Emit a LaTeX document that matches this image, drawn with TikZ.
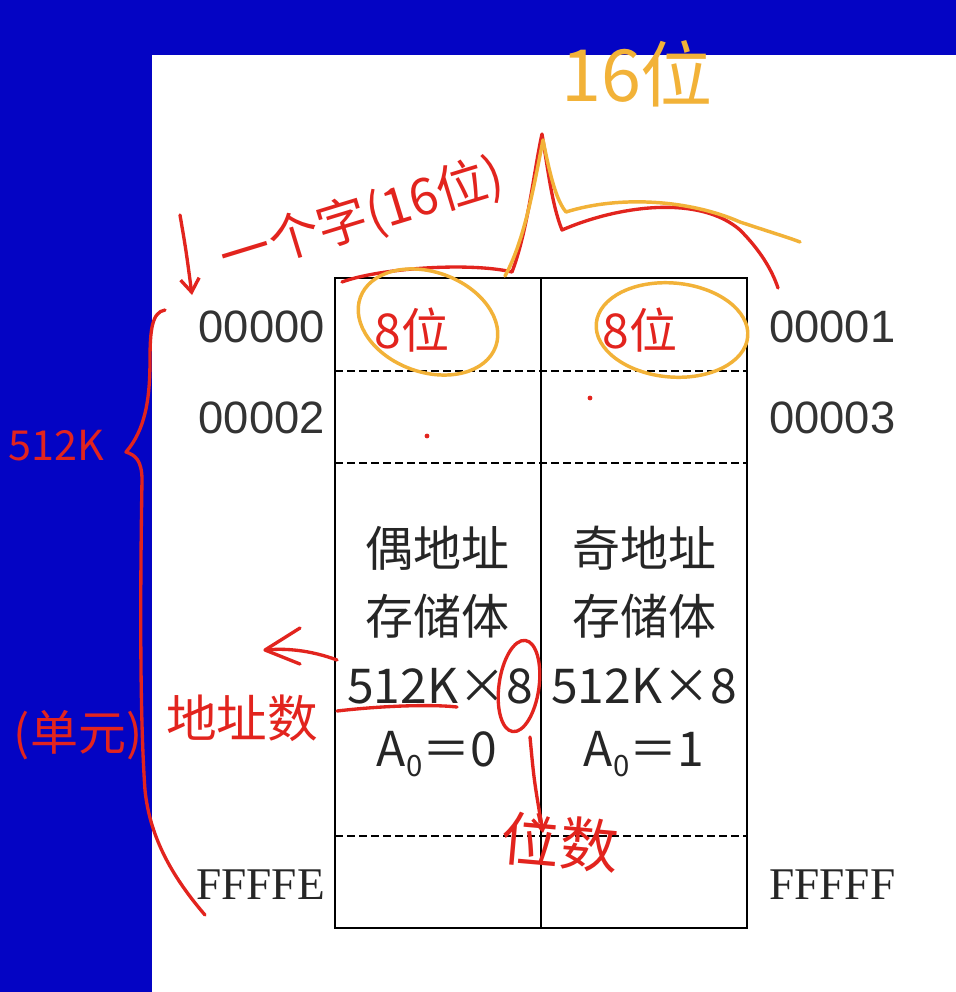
\documentclass[tikz,border=0pt]{standalone}
\usepackage{fontspec}
\setmainfont{Liberation Sans}
\newfontfamily\cjk{Noto Sans CJK SC}
\newfontfamily\addrserif{Liberation Serif}
\usetikzlibrary{arrows.meta}
\definecolor{bgblue}{RGB}{4,4,196}
\definecolor{inkred}{RGB}{226,36,30}
\definecolor{inkorange}{RGB}{242,178,56}
\begin{document}
\begin{tikzpicture}[x=0.75pt,y=-0.75pt,
  addr/.style={font=\fontsize{34}{40}\selectfont, text=black!80, inner sep=0pt},
  addrs/.style={font=\addrserif\fontsize{34}{40}\selectfont, text=black!85, inner sep=0pt},
  cell/.style={font=\cjk\fontsize{36}{44}\selectfont, text=black!85, inner sep=0pt},
  rednote/.style={font=\cjk\fontsize{36}{44}\selectfont, text=inkred, inner sep=0pt},
  orangenote/.style={font=\cjk\fontsize{54}{60}\selectfont, text=inkorange, inner sep=0pt},
  redink/.style={draw=inkred, line width=2.5pt, line cap=round, line join=round},
  orangeink/.style={draw=inkorange, line width=2.6pt, line cap=round, line join=round},
  frame/.style={draw=black, line width=2.1pt},
  sep/.style={draw=black, line width=1.7pt, dash pattern=on 6pt off 3pt}
]
\useasboundingbox (0,0) rectangle (956,992);
\fill[bgblue] (0,0) rectangle (956,992);
\fill[white] (152,55) rectangle (956,992);

% table
\coordinate (tl) at (335,278);
\coordinate (br) at (747,928);
\draw[frame] (tl) rectangle (br);
\draw[frame] (541,278) -- (541,928);
\draw[sep] (335,371) -- (747,371);
\draw[sep] (335,463) -- (747,463);
\draw[sep] (335,836) -- (747,836);

% address labels
\node[addr, anchor=east] (a0) at (325,327) {00000};
\node[addr, anchor=east] (a2) at (325,418) {00002};
\node[addrs, anchor=east] (aE) at (325,885) {FFFFE};
\node[addr, anchor=west] (a1) at (769,327) {00001};
\node[addr, anchor=west] (a3) at (769,418) {00003};
\node[addrs, anchor=west] (aF) at (769,885) {FFFFF};

% cell texts
\node[cell] (e1) at (437,548) {偶地址};
\node[cell] (e2) at (437,616) {存储体};
\node[cell] (e3) at (440,686) {512K×8};
\node[cell] (e4) at (437,754) {A\raisebox{-0.22em}{\fontsize{22}{24}\selectfont 0}＝0};
\node[cell] (o1) at (644,548) {奇地址};
\node[cell] (o2) at (644,616) {存储体};
\node[cell] (o3) at (644,686) {512K×8};
\node[cell] (o4) at (644,754) {A\raisebox{-0.22em}{\fontsize{22}{24}\selectfont 0}＝1};

% ---- handwritten annotations ----
\node[orangenote] (n16) at (637,74) {16位};
\node[rednote, font=\cjk\fontsize{38}{44}\selectfont, rotate=17] (word) at (362,218) {一个字(16位)};
\draw[redink, -{Straight Barb[length=10pt,width=14pt]}] (180,215) .. controls (186,250) .. (192,295);

% spike curves
\draw[redink] (342,282) .. controls (380,268) and (470,262) .. (512,272)
  .. controls (528,230) and (534,170) .. (542,134)
  .. controls (548,170) and (552,205) .. (562,230)
  .. controls (620,205) and (700,195) .. (740,230)
  .. controls (760,250) and (772,270) .. (778,288);
\draw[orangeink] (505,276) .. controls (525,240) and (535,180) .. (543,140)
  .. controls (550,175) and (556,200) .. (566,212)
  .. controls (620,195) and (690,200) .. (740,222)
  .. controls (770,232) and (790,238) .. (800,242);

% 8位 marks
\node[rednote] (b8l) at (412,330) {8位};
\node[rednote] (b8r) at (640,330) {8位};
\draw[orangeink, rotate around={-20:(428,322)}] (428,322) ellipse [x radius=72, y radius=50];
\draw[orangeink, rotate around={-5:(672,330)}] (672,330) ellipse [x radius=76, y radius=47];
\fill[inkred] (427,436) circle (2.4);
\fill[inkred] (590,398) circle (2.4);

% left brace
\draw[redink] (165,310) .. controls (152,312) and (150,330) .. (150,360)
  .. controls (150,400) and (145,430) .. (126,452)
  .. controls (135,455) and (142,460) .. (142,480)
  .. controls (140,600) and (140,720) .. (145,790)
  .. controls (150,840) and (175,880) .. (205,915);
\node[rednote, font=\cjk\fontsize{31}{36}\selectfont] (k512) at (56,446) {512K};
\node[rednote, font=\cjk\fontsize{36}{42}\selectfont] (unit) at (78,735) {(单元)};

% address count
\node[rednote, font=\cjk\fontsize{38}{44}\selectfont] (addrn) at (242,718) {地址数};
\draw[redink] (337,660) .. controls (310,650) and (285,648) .. (266,650);
\draw[redink] (300,628) -- (265,650) -- (300,664);
\draw[redink] (337,711) .. controls (380,706) and (430,704) .. (457,707);
\draw[redink, rotate around={-8:(519,686)}] (519,686) ellipse [x radius=20, y radius=46];
\draw[redink, -{Straight Barb[length=9pt,width=12pt]}] (530,737) .. controls (534,780) .. (543,833);
\node[rednote, font=\cjk\fontsize{44}{50}\selectfont, rotate=-5] (bitn) at (560,842) {位数};
\end{tikzpicture}
\end{document}
